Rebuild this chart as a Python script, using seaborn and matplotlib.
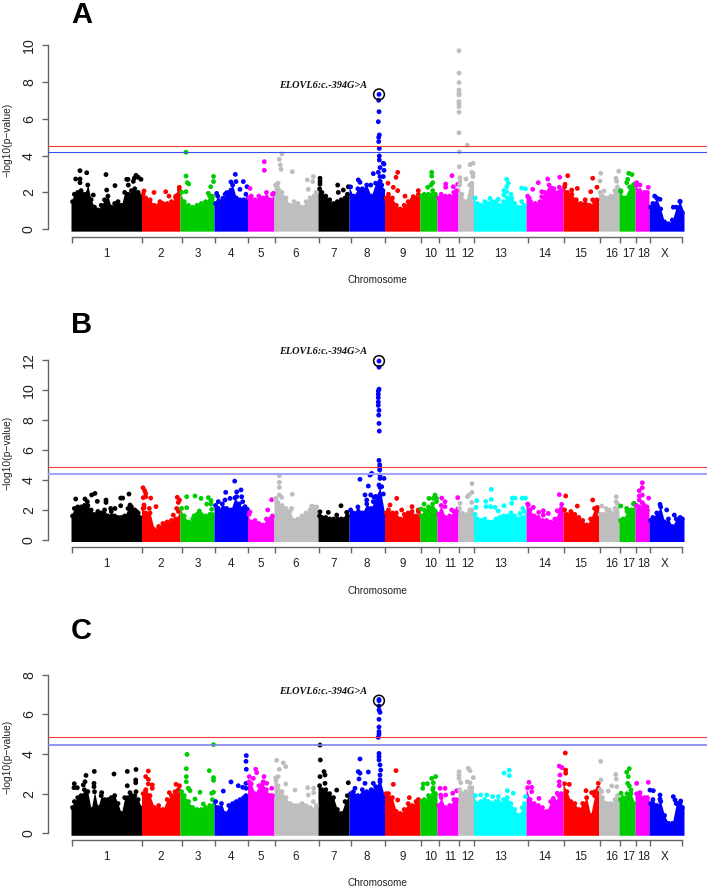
import numpy as np
import pandas as pd
import matplotlib
matplotlib.use("Agg")
import matplotlib.pyplot as plt
import seaborn as sns

sns.set_style("white")
plt.rcParams["font.family"] = ["Liberation Sans", "DejaVu Sans"]

W, H = 708, 889

chrom_labels = ["1", "2", "3", "4", "5", "6", "7", "8", "9", "10", "11", "12", "13", "14", "15", "16", "17", "18", "X"]
chrom_colors = ["#000000", "#FF0000", "#00CD00", "#0000FF", "#FF00FF", "#BEBEBE", "#000000", "#0000FF", "#FF0000",
                "#00CD00", "#FF00FF", "#BEBEBE", "#00FFFF", "#FF00FF", "#FF0000", "#BEBEBE", "#00CD00", "#FF00FF", "#0000FF"]

# genome position is kept on the same scale as the picture
mass_edges = [71, 141.5, 180, 214, 247.5, 274, 318, 349, 384.5, 420, 437, 458, 473.5, 526, 563, 598.5, 619, 635, 649, 684]
tick_edges = [72.3, 142.3, 181.7, 215.3, 248.3, 275.3, 319, 350.5, 385.3, 421.3, 438.7, 459, 474.3, 527.7, 564, 599.7, 620, 636, 650.3, 682.3]
label_pos = [106.7, 161, 197.7, 231, 261, 296, 333.3, 366.7, 402.3, 431, 450, 467.3, 500.7, 544.7, 580.3, 611.7, 628.3, 644, 665]

# top of the solid band, chromosome by chromosome
a_tops = [
    [1.5, 1.9, 2.0, 2.1, 1.9, 2.4, 1.6, 1.2, 1.05, 1.3, 1.6, 1.8, 1.2, 1.4, 1.5, 1.3, 2.0, 1.9, 2.1, 2.2, 2.0, 1.8],
    [1.9, 1.7, 1.6, 1.3, 1.3, 1.4, 1.4, 1.5, 1.7, 1.9],
    [2.0, 1.5, 1.3, 1.2, 1.3, 1.4, 1.5, 1.8, 1.8],
    [1.4, 1.8, 1.5, 1.9, 2.0, 2.4, 1.7, 1.6, 1.6, 1.9],
    [1.7, 1.8, 1.6, 1.8, 1.7, 2.0, 1.6, 1.9],
    [2.4, 2.5, 2.0, 1.7, 1.3, 1.5, 1.4, 1.2, 1.5, 1.7, 1.8, 2.0],
    [2.2, 2.0, 1.8, 1.6, 1.4, 1.5, 1.6, 1.7, 1.9],
    [2.3, 1.8, 2.2, 2.2, 2.4, 1.8, 2.5, 2.6, 2.1],
    [1.7, 1.9, 1.7, 1.3, 1.1, 1.3, 1.5, 1.6, 1.7, 1.9],
    [1.8, 1.9, 1.9, 1.9, 1.9],
    [1.7, 1.9, 1.8, 1.8, 2.0, 2.1],
    [2.4, 1.9, 1.5, 2.4, 2.5],
    [1.7, 1.4, 1.3, 1.5, 1.4, 1.5, 1.5, 1.3, 1.5, 1.7, 1.9, 1.4, 1.2, 1.2, 1.3],
    [1.8, 1.5, 1.4, 1.5, 2.0, 2.4, 2.2, 2.0, 2.1],
    [2.3, 2.0, 1.9, 1.6, 1.4, 1.6, 1.3, 1.5, 1.6],
    [2.0, 1.8, 1.7, 1.8, 2.1, 2.3],
    [2.1, 1.7, 2.3, 2.4],
    [2.4, 2.1, 2.0, 2.0],
    [1.2, 1.4, 1.7, 1.1, 0.4, 0.3, 0.5, 1.2, 1.5, 0.9],
]
b_tops = [
    [1.6, 2.1, 2.2, 2.2, 2.3, 2.3, 2.0, 1.7, 1.9, 1.8, 2.0, 1.6, 1.9, 1.6, 1.5, 1.5, 1.6, 2.1, 2.2, 2.0, 1.8, 1.5],
    [2.1, 1.8, 1.8, 0.7, 0.9, 1.1, 1.2, 1.3, 1.4, 1.9],
    [2.1, 1.6, 1.2, 1.4, 1.7, 1.7, 1.6, 1.7, 1.7],
    [2.3, 1.9, 2.4, 2.1, 2.0, 2.8, 2.4, 2.1, 1.9],
    [1.7, 1.2, 1.3, 1.1, 1.0, 1.4, 1.4, 1.6],
    [2.7, 2.5, 2.3, 2.1, 1.9, 1.3, 1.4, 1.6, 1.8, 2.0, 2.2, 1.9],
    [1.6, 1.5, 1.5, 1.4, 1.4, 1.4, 1.4, 1.4, 1.6],
    [2.0, 1.8, 2.2, 1.8, 2.4, 2.1, 2.9, 3.5, 1.8],
    [1.8, 2.0, 1.8, 1.8, 1.4, 1.7, 1.8, 1.9, 1.6, 1.9],
    [1.6, 2.0, 2.2, 2.4, 1.9],
    [1.7, 2.3, 1.5, 1.6, 1.9, 1.9],
    [2.1, 1.8, 1.7, 1.9, 2.0],
    [1.7, 1.4, 1.3, 1.4, 1.2, 1.2, 1.4, 1.5, 1.6, 1.6, 1.8, 1.6, 1.4, 1.5, 1.9],
    [2.4, 2.0, 1.6, 1.5, 1.3, 1.3, 1.2, 1.4, 1.9, 2.1],
    [2.0, 1.7, 1.9, 1.7, 1.5, 1.3, 1.0, 1.4, 2.1, 2.0],
    [1.7, 1.7, 1.8, 1.8, 2.1, 2.4],
    [1.3, 1.4, 1.9, 2.0, 2.4],
    [2.3, 2.2, 2.3, 2.0],
    [1.3, 1.5, 1.8, 2.2, 1.2, 1.4, 0.9, 1.4, 1.5, 1.4],
]
c_tops = [
    [1.3, 1.6, 1.8, 1.9, 2.2, 2.1, 1.2, 2.1, 1.3, 1.9, 1.7, 1.7, 1.8, 1.9, 1.5, 1.0, 1.8, 1.8, 1.9, 1.9, 1.7, 1.3],
    [2.0, 2.2, 1.9, 1.3, 1.4, 1.2, 1.7, 1.9, 2.0, 2.2],
    [2.1, 1.9, 1.6, 1.3, 1.2, 1.2, 1.3, 1.4, 1.7],
    [1.6, 1.3, 1.5, 1.0, 1.4, 1.5, 1.6, 1.7, 1.8, 1.9],
    [2.6, 2.5, 2.0, 2.4, 2.5, 2.2, 1.9, 1.9],
    [2.8, 2.4, 2.1, 1.8, 1.5, 1.4, 1.4, 1.5, 1.4, 1.3, 1.2, 1.4],
    [2.4, 2.2, 2.2, 2.0, 1.8, 1.2, 1.0, 1.6, 1.9],
    [2.0, 2.1, 1.9, 2.2, 2.1, 2.2, 2.35, 2.7, 1.85],
    [2.0, 2.0, 1.8, 1.1, 1.0, 1.2, 1.5, 1.4, 1.6, 1.7],
    [1.6, 1.7, 1.9, 2.2, 2.0],
    [1.4, 1.8, 1.3, 1.4, 1.7, 1.7],
    [2.2, 2.0, 2.1, 2.3, 2.3],
    [1.9, 1.5, 1.6, 1.7, 1.6, 1.5, 1.6, 1.5, 1.7, 1.8, 1.5, 1.2, 0.9, 1.3, 1.5],
    [2.3, 1.7, 1.5, 1.4, 1.3, 1.1, 1.6, 1.6, 1.9, 2.0],
    [2.5, 2.1, 1.6, 1.5, 1.2, 1.5, 1.8, 0.9, 1.9, 2.1],
    [2.2, 1.8, 1.5, 1.5, 1.7, 1.9],
    [1.7, 1.8, 2.0, 2.0, 1.5],
    [2.0, 1.9, 1.8, 1.8],
    [1.5, 1.7, 1.4, 1.6, 0.9, 0.5, 0.5, 1.5, 1.5, 1.3],
]

# single variants above the band (position, -log10 p)
a_hits = [
    (80, 3.18), (75.7, 2.73), (80, 2.73), (80, 2.53), (86.7, 3.07), (106, 2.97), (115, 2.37), (126.7, 2.71), (128, 2.71),
    (134.3, 2.77), (136, 2.93), (138.3, 2.82), (141, 2.71), (93.3, 1.86), (106.7, 2.13), (128.3, 2.4), (133.3, 2.6),
    (144, 2.08), (154, 2.0), (165.7, 2.04), (160, 1.5), (169, 1.8), (175.7, 1.8), (179.3, 2.28), (179.3, 2.13),
    (186, 4.18), (186, 2.89), (187.3, 2.53), (188.7, 2.46), (213.5, 2.87), (213.5, 2.59), (210.7, 2.31), (208.3, 1.95), (186, 2.04),
    (235.3, 2.98), (231, 2.57), (236, 2.59), (243.3, 2.59), (247, 2.31), (231, 2.13), (240, 2.17), (222.7, 1.68), (216.7, 1.95), (226.7, 1.99),
    (264.3, 3.67), (264.3, 3.2), (250, 2.22), (273.3, 1.95),
    (282, 4.09), (279.3, 3.8), (280.3, 3.49), (281, 3.25), (292.3, 3.13), (307.3, 2.68), (313.3, 2.86), (312.7, 2.59), (308.3, 2.17),
    (320, 2.77), (320, 2.6), (320, 2.45), (337.7, 2.4), (348.3, 2.31), (338.3, 2.0), (343.3, 2.13),
    (379, 7.32), (378.7, 7.0), (379, 6.38), (378.3, 5.84), (379.3, 5.12), (378.7, 4.99), (378.7, 4.76), (379.3, 4.39),
    (379.3, 3.98), (379.3, 3.76), (383.3, 3.58), (384, 3.54), (380, 3.35), (384, 3.2), (373.3, 3.02), (378.3, 3.09),
    (380, 2.86), (383.3, 2.86), (358.3, 2.68), (360, 2.55), (370.7, 2.4), (380, 2.59), (381.7, 2.4),
    (397.7, 3.09), (396, 2.82), (388, 2.5), (393.3, 2.28), (397.7, 2.1), (405, 1.8), (413.3, 1.77), (418.3, 2.1),
    (431.7, 3.09), (431.7, 2.89), (432.7, 2.53), (431, 2.4), (427.7, 2.28), (432.7, 2.1),
    (452, 2.91), (445.7, 2.46), (445.7, 2.28), (453.3, 2.31), (457.7, 2.44),
    (459, 9.69), (459, 8.48), (459, 7.96), (459, 7.56), (459, 7.41), (459, 7.29), (459, 6.93), (459, 6.8), (459, 6.65), (459, 6.35),
    (459, 5.24), (467.3, 4.56), (459.3, 4.2), (459.3, 3.4), (470, 3.51), (473, 3.58), (471.7, 3.09), (473, 3.04), (466, 2.73), (460, 2.8), (460, 2.59), (473, 2.86),
    (506.7, 2.71), (508.3, 2.5), (506.7, 2.31), (504, 2.1), (506.7, 2.04), (504, 1.86), (521.7, 2.24), (525.5, 2.2), (490, 1.68), (498.3, 1.63), (511.7, 1.68), (521.7, 1.5),
    (532.7, 2.17), (538.3, 2.53), (547.7, 2.73), (559.7, 2.82), (541.7, 2.04), (541.7, 1.77), (551.7, 2.22), (559.3, 2.28), (529.3, 1.68),
    (567.7, 2.91), (565, 2.44), (577.3, 2.22), (592.7, 2.77), (597, 2.28), (590.7, 2.04), (592.7, 1.6), (571.7, 2.13),
    (600.7, 3.04), (600, 2.62), (604, 2.08), (618.7, 3.15), (616, 2.77), (616.7, 2.6),
    (628.7, 3.04), (632, 2.97), (626.7, 2.53), (627.7, 2.71), (634.5, 2.46), (621, 2.04),
    (636.7, 2.53), (640, 2.4), (648.3, 2.28),
    (654.7, 1.8), (660, 1.63), (680, 1.52), (673.3, 1.2),
]
b_hits = [
    (75.7, 2.73), (85, 2.73), (91.7, 3.0), (95, 3.1), (87.3, 2.55), (97.3, 2.57), (106, 2.66), (106, 2.5), (120.7, 2.79), (122.7, 2.79),
    (129, 3.06), (120.7, 2.28), (130, 2.33), (115, 2.1), (110.7, 2.1), (136.7, 1.88),
    (143, 3.48), (144.7, 3.28), (145.7, 3.1), (143.3, 2.82), (145.7, 2.88), (150.7, 2.79), (144, 2.33), (144, 2.15), (149.3, 2.1), (156, 2.22),
    (177.3, 2.84), (179.5, 2.66), (178.3, 2.5), (173.3, 1.66), (176.7, 2.1),
    (186.7, 2.88), (195, 2.93), (201, 2.77), (208.3, 2.82), (211, 2.62), (206.7, 2.39), (211, 2.39), (211.7, 2.04), (194, 1.6), (186.7, 2.15), (199.3, 1.93),
    (234.7, 3.92), (225.7, 3.17), (241, 3.33), (236.7, 3.2), (230, 2.77), (225, 2.66), (218.3, 2.55), (236.7, 2.88), (241.7, 2.88), (242.7, 2.55), (245, 2.22), (247.3, 2.04), (218.3, 2.1),
    (271.7, 2.68), (267.7, 2.0), (250, 1.86),
    (279.3, 4.28), (279.3, 3.84), (279.3, 3.5), (292.3, 3.04), (279.3, 3.0), (281.7, 2.84), (276, 2.77), (311.7, 2.26), (291.7, 2.1), (316.7, 2.2), (315, 2.1),
    (341, 2.28), (320, 1.88), (328.3, 1.84), (336.7, 1.66), (346.7, 1.84),
    (379, 11.91), (379, 11.5), (379, 10.04), (378.3, 9.91), (378.3, 9.69), (378.3, 9.47), (378.3, 9.18), (378.3, 8.96), (379, 8.63), (378.7, 8.31), (379, 7.76), (379.3, 7.25),
    (379, 5.3), (379.7, 5.01), (379.7, 4.83), (379.7, 4.66), (371.7, 4.43), (370, 4.32), (380, 4.32), (380, 4.1), (384, 4.1), (360, 4.04),
    (368.3, 3.59), (379, 3.66), (381.7, 3.55), (383.3, 3.06), (365, 3.0), (370.7, 3.0), (374, 2.84), (373.3, 2.55), (366.7, 2.66),
    (396.7, 2.77), (390, 2.33), (412, 2.22), (401.7, 2.0), (418.3, 2.0),
    (435, 2.99), (429, 2.77), (433.3, 2.77), (436.5, 2.77), (436.5, 2.55), (424, 2.39), (421, 2.06),
    (441.7, 2.79), (445, 2.55), (457.7, 2.82), (457.7, 2.06), (451.7, 2.0), (445, 2.22),
    (472, 3.75), (472, 3.17), (467.3, 2.88), (469, 2.99), (460, 2.44), (470, 2.0), (471.7, 2.5),
    (491.3, 3.37), (491.3, 2.7), (512.3, 2.79), (515, 2.79), (522.3, 2.79), (525.5, 2.79), (485.7, 2.57), (511.7, 2.44), (476.7, 2.62), (504, 2.28),
    (490.7, 2.22), (495, 2.17), (476, 2.17), (486, 2.22), (522.7, 2.1), (498.3, 1.93), (520, 1.77),
    (559.3, 3.02), (528.3, 2.33), (533.3, 2.17), (561.7, 2.37), (557.3, 1.95), (543.3, 1.95), (538.7, 1.84), (548.3, 1.77), (543.3, 1.66),
    (565.7, 2.93), (577.3, 2.26), (592.7, 2.66), (597.3, 2.17), (571.7, 1.77),
    (616.3, 2.88), (616, 2.55), (601.7, 2.26), (606, 2.1), (609.3, 2.0),
    (620.7, 2.26), (634.3, 2.44), (626.7, 2.1),
    (642.3, 3.81), (642.3, 3.48), (639.3, 3.28), (642.3, 2.99), (639.3, 2.93), (639.3, 2.66), (648.7, 2.79), (642.3, 2.48), (647, 2.2),
    (660, 2.37), (666.7, 2.0), (674.3, 1.66), (680.7, 1.44),
]
c_hits = [
    (74.3, 2.5), (74, 2.3), (77.3, 2.3), (86, 2.92), (85, 2.6), (83.3, 2.44), (94.3, 3.12), (94, 2.52), (94, 2.35), (114, 2.99),
    (127.3, 3.12), (136, 3.22), (135.7, 2.69), (135.7, 2.55), (127.3, 2.4), (136, 2.1), (101.7, 2.05), (130, 2.05),
    (148.3, 3.14), (145.7, 2.86), (148.3, 2.72), (148.3, 2.49), (152.3, 2.44), (152.3, 2.27), (145.7, 2.15), (176, 2.47), (179.5, 2.4), (169.3, 2.05), (175, 2.1),
    (213.5, 4.47), (187, 3.98), (186.3, 3.26), (186.3, 2.86), (186.3, 2.6), (209.3, 3.16), (213.5, 2.81), (213.5, 2.67), (188.3, 2.27), (190, 2.15),
    (200, 2.07), (211.7, 2.02), (213.5, 2.07), (195, 1.73), (203.3, 1.48),
    (246.3, 3.92), (246, 3.63), (246.3, 3.23), (231, 2.59), (223.3, 2.13), (238.3, 2.4), (246, 2.52), (242.7, 2.32), (246, 2.27),
    (255.7, 3.23), (256.7, 3.06), (249.3, 2.86), (253.3, 2.77), (264, 2.86), (263.3, 2.6), (266.7, 2.52), (271.7, 2.27),
    (276.7, 3.68), (283.3, 3.55), (285.7, 3.36), (279.3, 3.23), (278.3, 2.86), (276, 2.66), (285.7, 2.49), (307.7, 2.3), (313.7, 2.27), (313.7, 2.05), (295, 2.18), (308.3, 1.93), (313.3, 1.6),
    (320, 4.45), (320.3, 3.7), (320, 2.86), (324, 3.11), (325, 2.94), (348.3, 2.55), (325, 2.52), (336.7, 2.18),
    (379, 6.69), (379, 6.75), (379, 6.42), (379, 6.22), (380, 6.1), (379, 5.75), (379, 5.36), (379, 5.13), (379, 4.99), (378.3, 4.84),
    (379, 4.03), (379, 3.87), (379, 3.7), (360, 3.75), (380, 3.45), (380.7, 3.19), (358.3, 3.11), (360, 3.03), (368.3, 3.09), (359, 2.74),
    (365, 2.52), (380, 2.94), (380, 2.6), (355, 2.27), (373.3, 2.52),
    (396, 3.16), (393.3, 2.47), (409.3, 1.8), (397.7, 1.68), (418.3, 1.68),
    (435.7, 2.86), (431.7, 2.77), (433.3, 2.55), (427.3, 2.5), (423.3, 2.49), (422.7, 2.27), (433.3, 2.3),
    (440, 2.27), (445, 2.27), (440.7, 1.93), (445.7, 1.93), (452.7, 2.02), (456.7, 2.15),
    (459, 3.11), (459, 2.94), (459, 2.77), (468.3, 3.28), (470, 3.16), (473.3, 2.81), (460.7, 2.55), (467.3, 2.6), (470, 2.55),
    (509.3, 3.19), (504, 3.04), (509.3, 2.91), (507.3, 2.15), (513.3, 2.02), (480.7, 1.93), (486.7, 1.93), (492.7, 1.85), (498.3, 1.85), (498.3, 1.6), (525.5, 1.85),
    (529, 2.57), (531.7, 2.32), (531.7, 2.1), (539, 1.76), (559.3, 3.39), (562, 3.31), (560, 2.94), (559.3, 2.6), (559.3, 2.4), (557.3, 2.02), (553.3, 1.76),
    (565.3, 4.05), (565.7, 3.19), (565.7, 3.03), (569.3, 2.47), (586, 2.15), (598.3, 2.52), (598.3, 2.27), (595, 2.1), (591.7, 2.05),
    (600.7, 3.63), (615.7, 2.97), (616.3, 2.74), (601, 2.69), (611.7, 2.39), (616.7, 2.35), (608.3, 2.13), (601.7, 2.1),
    (629.3, 3.26), (626.7, 3.08), (628.3, 2.86), (627.7, 2.52), (629.3, 2.39), (631, 2.18), (621, 2.02),
    (636.7, 2.52), (648.3, 2.57), (640, 2.05),
    (650, 2.18), (653.3, 2.15), (660, 1.93), (660, 1.73), (673.3, 1.85), (680.7, 1.63), (675, 1.68), (678.3, 1.5),
]

peak_pos = 379
a_lines = (4.54, 4.18)
b_lines = (4.84, 4.41)
c_lines = (4.84, 4.47)


def draw_panel(fig, tops, hits, peak, lines, y_max, y_ticks, px, blue_lw, blue_col):
    axis_px, zero_px, top_px = px
    scale = (zero_px - top_px) / y_max
    upper_px = top_px - 8
    ax = fig.add_axes([48.3 / W, 1 - axis_px / H, (707 - 48.3) / W, (axis_px - upper_px) / H])
    ax.set_xlim(48.3, 707)
    ax.set_ylim(-(axis_px - zero_px) / scale, (zero_px - upper_px) / scale)
    ax.patch.set_alpha(0)

    # solid band of each chromosome plus a dot on every top reading
    rows = []
    for i, chrom_top in enumerate(tops):
        xs = np.linspace(mass_edges[i], mass_edges[i + 1], len(chrom_top))
        ax.fill_between(xs, -0.1, chrom_top, color=chrom_colors[i], lw=0, zorder=1)
        rows += [(min(max(x, mass_edges[i] + 1.6), mass_edges[i + 1] - 1.6), y, i) for x, y in zip(xs, chrom_top)]
    for x, y in hits:
        rows.append((x, y, int(np.searchsorted(mass_edges, x)) - 1))
    df = pd.DataFrame(rows, columns=["pos", "logp", "chrom"]).sort_values("chrom")
    sns.scatterplot(data=df, x="pos", y="logp", hue="chrom", palette=dict(enumerate(chrom_colors)),
                    s=12, linewidth=0, legend=False, ax=ax, zorder=2)

    ax.axhline(lines[0], color="#F03C3C", lw=0.8, zorder=3)
    ax.axhline(lines[1], color=blue_col, lw=blue_lw, zorder=3)
    sns.scatterplot(x=[peak_pos], y=[peak], s=60, facecolor="none", edgecolor="black", linewidth=1.1, ax=ax, zorder=4)

    for side in ["top", "right"]:
        ax.spines[side].set_visible(False)
    ax.spines["left"].set_bounds(0, y_max)
    ax.spines["bottom"].set_bounds(tick_edges[0], tick_edges[-1])
    for side in ["left", "bottom"]:
        ax.spines[side].set_color("#666666")
        ax.spines[side].set_linewidth(1.0)

    ax.set_yticks(y_ticks)
    ax.set_yticklabels([str(t) for t in y_ticks], rotation=90, va="center", fontsize=10.2, color="#222222")
    ax.tick_params(axis="y", length=4.4, width=1.0, color="#666666", pad=4.5, left=True)
    ax.set_xticks(tick_edges)
    ax.set_xticklabels([])
    ax.set_xticks(label_pos, minor=True)
    ax.set_xticklabels(chrom_labels, minor=True, fontsize=8.4, color="#222222")
    ax.tick_params(axis="x", which="major", length=4.6, width=1.0, color="#666666", bottom=True)
    ax.tick_params(axis="x", which="minor", length=0, pad=8.2, bottom=True)
    ax.set_xlabel("")
    ax.set_ylabel("")

    centre = (zero_px + top_px) / 2
    fig.text(7.5 / W, 1 - (centre + 3) / H, "\u2212log10(p\u2212value)", rotation=90, ha="center", va="center", fontsize=7.4, color="#222222")
    fig.text(377 / W, 1 - (axis_px + 43.5) / H, "Chromosome", ha="center", va="center", fontsize=7.2, color="#222222")
    return ax


fig = plt.figure(figsize=(W / 100, H / 100), dpi=100)

draw_panel(fig, a_tops, a_hits, 7.32, a_lines, 10, [0, 2, 4, 6, 8, 10], (236.7, 229.3, 45), 0.8, "#3C50F0")
draw_panel(fig, b_tops, b_hits, 11.91, b_lines, 12, [0, 2, 4, 6, 8, 10, 12], (547, 540, 359.7), 1.5, "#A4A4F8")
draw_panel(fig, c_tops, c_hits, 6.69, c_lines, 8, [0, 2, 4, 6, 8], (840, 833.3, 674.7), 1.2, "#7C80F4")

for letter, base_px in zip(["A", "B", "C"], [23, 333, 639]):
    fig.text(71 / W, 1 - base_px / H, letter, fontsize=21, fontweight="bold", ha="left", va="baseline", color="black")
for y_px in [85, 352, 691]:
    fig.text(279 / W, 1 - y_px / H, "ELOVL6:c.-394G>A", family="Liberation Serif", style="italic", fontweight="bold",
             fontsize=7.4, ha="left", va="center", color="#111111")

fig.savefig("out.png", dpi=100)
